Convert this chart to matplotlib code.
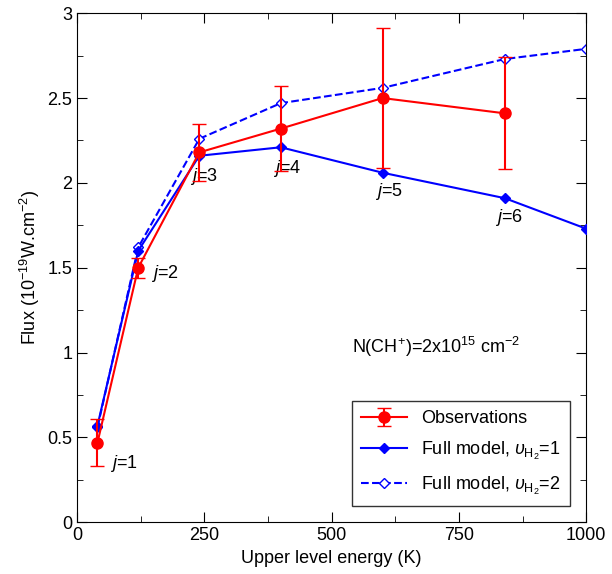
import matplotlib
matplotlib.use("Agg")
import matplotlib.pyplot as plt

plt.rcParams['font.family'] = ['Liberation Sans', 'DejaVu Sans']
plt.rcParams['mathtext.fontset'] = 'custom'
plt.rcParams['mathtext.rm'] = 'Liberation Sans'
plt.rcParams['mathtext.it'] = 'Liberation Sans:italic'

obs_x = [40, 120, 240, 400, 600, 840]
obs_y = [0.47, 1.50, 2.18, 2.32, 2.50, 2.41]
obs_err = [0.14, 0.06, 0.17, 0.25, 0.41, 0.33]

mod_x = [40, 120, 240, 400, 600, 840, 1000]
mod1_y = [0.57, 1.60, 2.16, 2.21, 2.06, 1.91, 1.73]
mod2_y = [0.56, 1.62, 2.26, 2.47, 2.56, 2.73, 2.79]

labels = ["1", "2", "3", "4", "5", "6"]
label_xy = [(65, 0.32), (145, 1.44), (222, 2.01), (385, 2.06), (585, 1.92), (820, 1.77)]

fig = plt.figure(figsize=(6.12, 5.74), dpi=100)
ax = fig.add_axes([0.126, 0.09, 0.832, 0.887])

ax.plot(mod_x, mod2_y, color='blue', ls='--', lw=1.5, marker='D', ms=5.5,
        mfc='white', mec='blue', label=r'Full model, $\upsilon_{\rm H_2}$=2', zorder=2)
ax.plot(mod_x, mod1_y, color='blue', lw=1.5, marker='D', ms=5.5,
        label=r'Full model, $\upsilon_{\rm H_2}$=1', zorder=3)
ax.errorbar(obs_x, obs_y, yerr=obs_err, color='red', lw=1.5, marker='o', ms=8,
            capsize=5, label='Observations', zorder=4)

for lab, (x, y) in zip(labels, label_xy):
    ax.text(x, y, r'$j$=' + lab, fontsize=13)

ax.text(540, 1.0, r'N(CH$^{+}$)=2x10$^{15}$ cm$^{-2}$', fontsize=13)

h, l = ax.get_legend_handles_labels()
ax.legend(h[::-1], l[::-1], loc='lower right', bbox_to_anchor=(0.985, 0.015),
          fontsize=13, frameon=True, fancybox=False, edgecolor='black',
          handlelength=2.5, borderpad=0.5, labelspacing=0.7)

ax.set_xlim(0, 1000)
ax.set_ylim(0, 3)
ax.set_xticks([0, 250, 500, 750, 1000])
ax.set_xticks(range(0, 1001, 125), minor=True)
ax.set_yticks([0, 0.5, 1, 1.5, 2, 2.5, 3])
ax.set_yticks([i * 0.25 for i in range(13)], minor=True)
ax.set_yticklabels(['0', '0.5', '1', '1.5', '2', '2.5', '3'])
ax.tick_params(direction='in', which='both', top=True, right=True, labelsize=13)
ax.tick_params(which='major', length=7)
ax.tick_params(which='minor', length=4)
ax.set_xlabel('Upper level energy (K)', fontsize=13)
ax.set_ylabel(r'Flux (10$^{-19}$W.cm$^{-2}$)', fontsize=13)

fig.savefig('out.png', dpi=100)
